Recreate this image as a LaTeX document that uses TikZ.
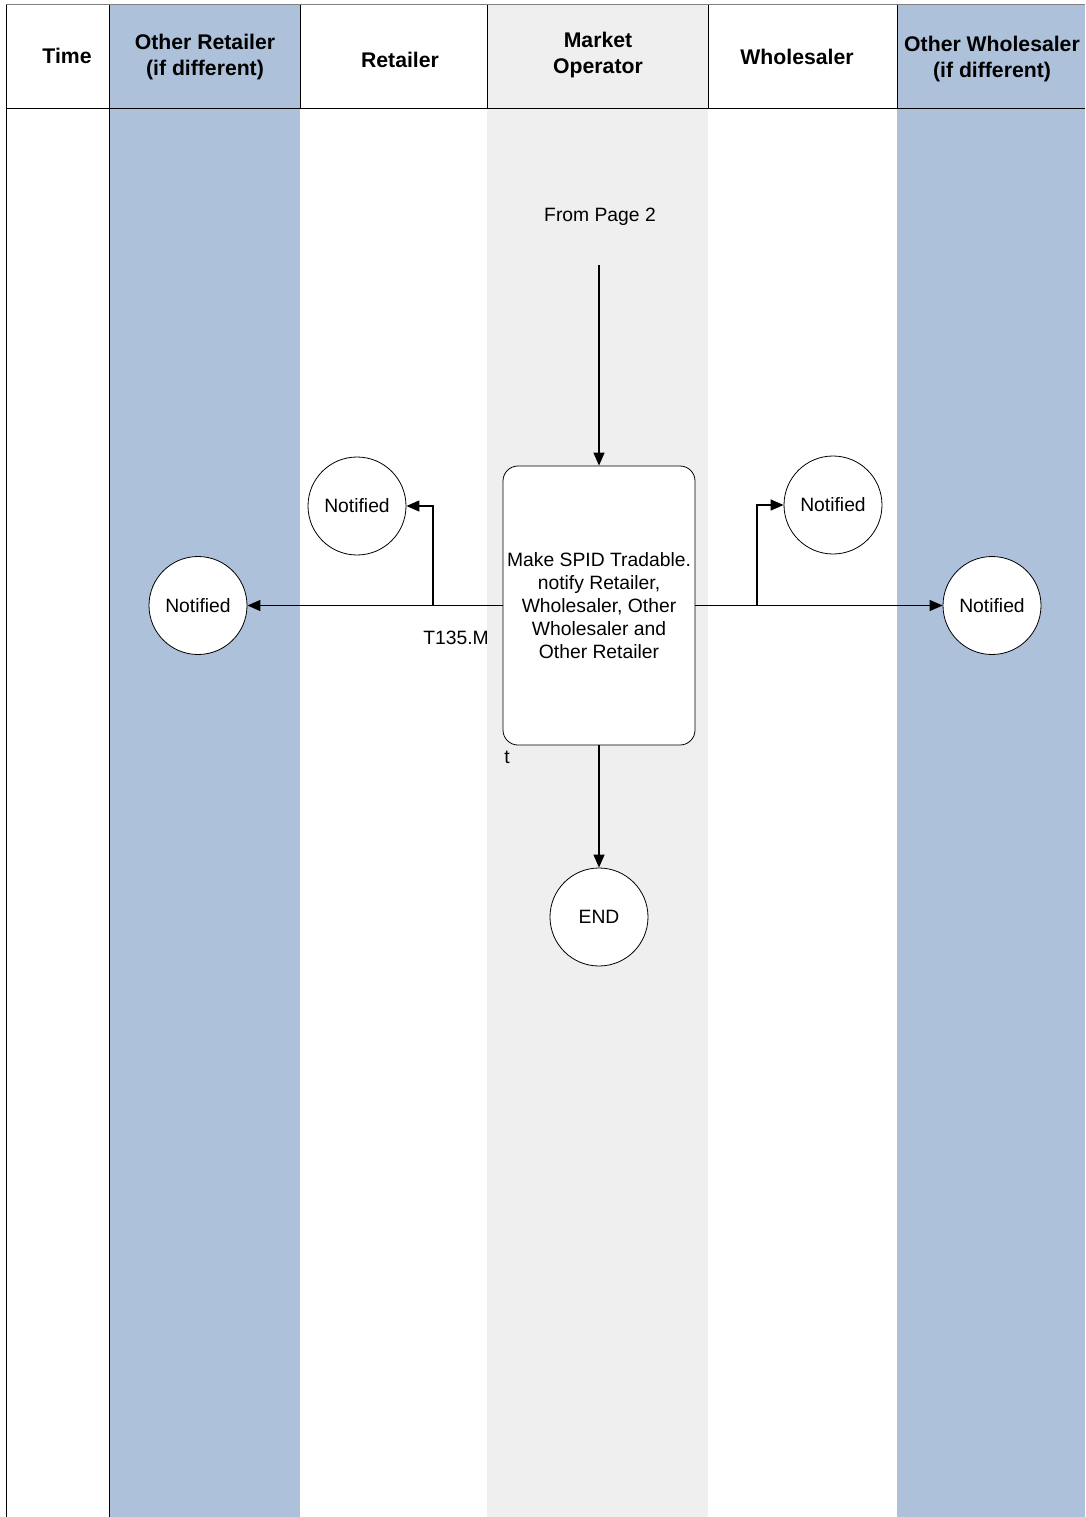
\documentclass[tikz,border=0pt]{standalone}
\usepackage{fontspec}
\setmainfont{Liberation Sans}
\usetikzlibrary{arrows.meta}
\definecolor{laneblue}{HTML}{ADC1DA}
\definecolor{lanegray}{HTML}{EFEFEF}
\definecolor{framegray}{HTML}{808080}

\begin{document}
\begin{tikzpicture}[x=1pt,y=-1pt,
  hdr/.style={font=\fontsize{21.2}{26}\selectfont\bfseries, align=center, inner sep=0pt},
  txt/.style={font=\fontsize{19.3}{23}\selectfont},
  event/.style={circle, draw, fill=white, minimum size=98pt, inner sep=0pt, txt, line width=0.8pt},
  process/.style={draw, fill=white, rounded corners=15pt, minimum width=192pt,
    minimum height=279pt, align=center, txt, line width=0.8pt, inner sep=2pt},
  link/.style={line width=1.3pt},
  flow/.style={link, -{Triangle[length=13pt,width=11pt]}},
  lbl/.style={txt, inner sep=0pt},
]
\useasboundingbox (0,0) rectangle (1085,1517);
\fill[white] (0,0) rectangle (1085,1517);

% swimlane backgrounds
\fill[laneblue] (109,5) rectangle (300,1517);
\fill[lanegray] (487,5) rectangle (708,1517);
\fill[laneblue] (897,5) rectangle (1085,1517);

% frame and header grid
\draw[framegray, line width=1pt] (6,5) -- (1085,5);
\draw[line width=0.8pt] (6,5) -- (6,1517);
\draw[line width=0.8pt] (109,5) -- (109,1517);
\draw[line width=0.8pt] (6,108) -- (1085,108);
\foreach \xx in {300,487,708,897}
  \draw[line width=0.8pt] (\xx,5) -- (\xx,108);

% lane titles
\node[hdr] (hTime) at (67,56) {Time};
\node[hdr] (hOR) at (205,57) {Other Retailer\\(if different)};
\node[hdr] (hRet) at (400,60) {Retailer};
\node[hdr] (hMO) at (598,55) {Market\\Operator};
\node[hdr] (hWho) at (797,57) {Wholesaler};
\node[hdr] (hOW) at (992,59) {Other Wholesaler\\(if different)};

% flow
\node[lbl] (from) at (600,217) {From Page 2};
\coordinate (fromEnd) at (599,265);
\node[process] (proc) at (599,605.5) {Make SPID Tradable.\\notify Retailer,\\Wholesaler, Other\\Wholesaler and\\Other Retailer};
\node[event] (nRet) at (357,506) {Notified};
\node[event] (nOR) at (198,605.5) {Notified};
\node[event] (nWho) at (833,505) {Notified};
\node[event] (nOW) at (992,605.5) {Notified};
\node[event] (endN) at (599,917) {END};

\coordinate (jL) at (433,605.5);
\coordinate (jR) at (757,605.5);

\draw[flow] (fromEnd) -- (proc.north);
\draw[flow] (proc.west) -- (nOR.east);
\draw[flow] (jL) |- (nRet.east);
\draw[flow] (proc.east) -- (nOW.west);
\draw[flow] (jR) |- (nWho.west);
\draw[flow] (proc.south) -- (endN.north);

\node[lbl] (tcode) at (456,638) {T135.M};
\node[lbl] (tmark) at (507,757) {t};
\end{tikzpicture}
\end{document}
